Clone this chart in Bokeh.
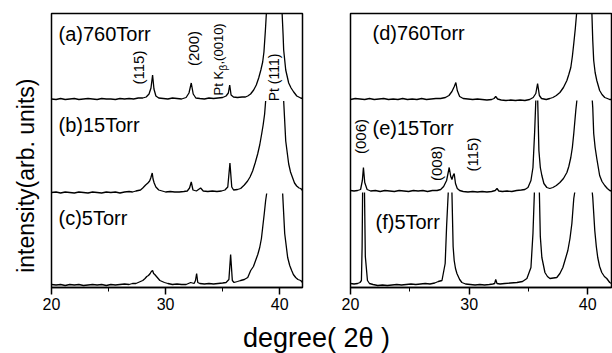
import numpy as np
from bokeh.plotting import figure
from bokeh.models import Range1d, FixedTicker, Label
from bokeh.layouts import column, row
from bokeh.embed import file_html
from bokeh.resources import INLINE

# ---------------- data (2theta in degrees, intensity in arb. units above each trace's baseline)
# left panel
a_x = [20.0, 20.4, 20.8, 21.2, 21.6, 22.0, 22.4, 22.8, 23.2, 23.6, 24.0, 24.4, 24.8, 25.2, 25.6, 26.0, 26.4, 26.8, 27.2, 27.6,
       28.0, 28.3, 28.55, 28.72, 28.86, 28.98, 29.15, 29.4, 29.8, 30.2, 30.6, 31.0, 31.4, 31.8, 32.05, 32.25, 32.42, 32.65,
       33.0, 33.4, 33.8, 34.2, 34.6, 35.0, 35.3, 35.5, 35.62, 35.74, 35.95, 36.3, 36.7, 37.0, 37.2, 37.45, 37.72, 37.95,
       38.16, 38.35, 38.51, 38.62, 38.75, 38.85, 39.6, 40.2, 40.3, 40.35, 40.53, 40.79, 41.0, 41.23, 41.5, 41.84, 42.0]
a_h = [1, 0.5, 1.5, 0.5, 1, 1.5, 0.5, 1, 1.5, 1, 0.5, 1.5, 1, 1, 0.5, 1.5, 1, 1.5, 1, 2,
       2, 3, 6, 12, 25, 11, 4, 2, 1.5, 1, 2, 1.5, 1, 2.5, 7, 17, 6, 2,
       1.5, 1, 2, 1.5, 2, 2.5, 4, 7, 15, 5, 3, 2.5, 3, 3, 4, 6, 10, 15,
       22, 30, 38, 48, 70, 90, 400, 90, 65, 50, 30, 17, 12, 8, 4, 2, 1.5]

b_x = [20.0, 20.4, 20.8, 21.2, 21.6, 22.0, 22.4, 22.8, 23.2, 23.6, 24.0, 24.4, 24.8, 25.2, 25.6, 26.0, 26.4, 26.8,
       27.1, 27.4, 27.6, 27.8, 28.0, 28.25, 28.45, 28.6, 28.7, 28.83, 28.9, 29.0, 29.15, 29.4, 29.7, 30.0, 30.4, 30.8,
       31.2, 31.6, 31.9, 32.1, 32.25, 32.4, 32.7, 33.07, 33.3, 33.7, 34.1, 34.5, 34.9, 35.2, 35.45, 35.64, 35.8, 35.96,
       36.3, 36.58, 36.9, 37.19, 37.4, 37.63, 37.85, 38.07, 38.25, 38.42, 38.55, 38.68, 38.77, 39.6, 40.35, 40.53,
       40.79, 40.95, 41.14, 41.3, 41.49, 41.7, 41.84, 42.0]
b_h = [0.5, 1, 0, 1, 0.5, 0, 1, 0.5, 0, 1, 0.5, 0, 1, 0.5, 1, 0, 1, 1.5,
       1, 2, 2.5, 3, 5, 8, 10, 12, 15, 20, 14, 10, 6, 3, 2, 1, 1.5, 1,
       1, 1.5, 2, 5, 11, 3, 2, 5, 2, 1.5, 2, 1.5, 2, 3, 6, 30, 6, 3,
       3.5, 4.5, 8, 12, 16, 22, 30, 39, 48, 59, 68, 79, 92, 400, 92, 52,
       29, 21, 15, 10, 7, 5, 4.5, 2.5]

c_x = [20.0, 20.4, 20.8, 21.2, 21.6, 22.0, 22.4, 22.8, 23.2, 23.6, 24.0, 24.4, 24.8, 25.2, 25.6, 26.0, 26.4, 26.8,
       27.1, 27.4, 27.6, 27.8, 28.0, 28.2, 28.35, 28.5, 28.65, 28.75, 28.86, 28.95, 29.05, 29.2, 29.35, 29.5, 29.7, 29.9,
       30.2, 30.6, 31.0, 31.4, 31.8, 32.0, 32.2, 32.5, 32.62, 32.72, 32.82, 33.0, 33.4, 33.8, 34.2, 34.6, 35.0, 35.3,
       35.55, 35.7, 35.85, 36.0, 36.3, 36.58, 36.9, 37.2, 37.46, 37.7, 37.89, 38.08, 38.25, 38.4, 38.51, 38.65, 38.77,
       38.86, 39.6, 40.26, 40.44, 40.7, 40.88, 41.05, 41.2, 41.4, 41.6, 41.84, 42.0]
c_h = [1, 0.5, 1, 0, 1, 0.5, 1, 0, 0.5, 1, 0.5, 1, 0, 1, 0.5, 1, 1.5, 1,
       2, 2, 3, 4, 5, 7, 9, 10, 12, 14, 15, 12, 11, 9, 7, 5, 4, 3,
       2, 1, 1.5, 1, 1, 2, 3, 2, 5, 12, 3, 2, 1.5, 2, 1.5, 2, 2.5, 3,
       6, 31, 5, 3, 4, 5, 6, 8, 15, 19, 25, 31, 38, 47, 58, 72, 85,
       92, 400, 92, 52, 28, 20, 15, 11, 8, 6, 5, 3]

# right panel
d_x = [20.0, 20.4, 20.8, 21.2, 21.6, 22.0, 22.4, 22.8, 23.2, 23.6, 24.0, 24.4, 24.8, 25.2, 25.6, 26.0, 26.4, 26.8,
       27.2, 27.6, 28.0, 28.3, 28.55, 28.75, 28.88, 29.0, 29.2, 29.5, 29.9, 30.3, 30.7, 31.1, 31.5, 31.9, 32.1, 32.24,
       32.4, 32.7, 33.1, 33.5, 33.9, 34.3, 34.7, 35.1, 35.4, 35.62, 35.77, 35.92, 36.1, 36.5, 36.8, 37.06, 37.35, 37.65,
       37.95, 38.24, 38.4, 38.57, 38.7, 38.82, 38.95, 39.08, 39.7, 40.34, 40.42, 40.5, 40.62, 40.76, 41.0, 41.2, 41.43,
       41.65, 41.85, 42.0]
d_h = [1, 2, 1.5, 1, 2, 1, 1.5, 2, 1, 1.5, 1, 2, 1, 1.5, 1, 2, 1, 1.5,
       2, 2, 3, 5, 9, 14, 18, 10, 4, 2, 1.5, 1, 1.5, 1, 0.5, 1, 2, 4,
       1.5, 0.5, 0, 0.5, 0, 0.5, 0, 1, 3, 7, 17, 5, 2, 1, 2, 3, 5, 8,
       13, 20, 26, 33, 44, 57, 72, 90, 400, 90, 60, 40, 28, 20, 10, 6, 3,
       2, 1, 1]

e_x = [20.0, 20.3, 20.6, 20.85, 21.0, 21.09, 21.2, 21.4, 21.7, 22.1, 22.5, 22.9, 23.3, 23.7, 24.1, 24.5, 24.9, 25.3,
       25.7, 26.1, 26.5, 26.9, 27.3, 27.6, 27.85, 28.1, 28.32, 28.45, 28.55, 28.65, 28.74, 28.85, 29.0, 29.2, 29.5, 29.9,
       30.3, 30.7, 31.1, 31.5, 31.9, 32.2, 32.35, 32.5, 32.8, 33.2, 33.6, 34.0, 34.4, 34.7, 34.96, 35.21, 35.38, 35.52,
       35.62, 35.7, 35.78, 35.88, 36.0, 36.13, 36.3, 36.55, 36.8, 37.06, 37.35, 37.65, 37.95, 38.24, 38.4, 38.57, 38.7,
       38.82, 38.99, 39.08, 39.7, 40.38, 40.42, 40.5, 40.62, 40.76, 41.0, 41.2, 41.43, 41.65, 41.85, 42.0]
e_h = [2, 1.5, 2, 3, 12, 25, 10, 3, 1.5, 2, 1, 2, 1.5, 1, 2, 1.5, 1, 2,
       1.5, 2, 1, 2, 2, 3, 6, 12, 25, 16, 13, 17, 19, 9, 4, 2, 1, 0.5,
       1, 0.5, 1, 0.5, 1, 2, 4, 1.5, 1, 1.5, 1, 2, 2.5, 3, 5, 12, 25, 60,
       92, 400, 92, 42, 25, 17, 9, 5, 4, 5, 7, 10, 14, 20, 26, 35, 45,
       59, 82, 92, 400, 92, 85, 59, 45, 34, 17, 11, 7, 4, 2, 1.5]

f_x = [20.0, 20.3, 20.6, 20.8, 20.92, 20.98, 21.02, 21.1, 21.18, 21.25, 21.43, 21.6, 21.9, 22.3, 22.7, 23.1, 23.5,
       23.9, 24.3, 24.7, 25.1, 25.5, 25.9, 26.3, 26.7, 27.1, 27.4, 27.71, 27.98, 28.1, 28.24, 28.4, 28.55, 28.65, 28.74,
       28.85, 28.97, 29.2, 29.39, 29.7, 30.1, 30.5, 30.9, 31.3, 31.7, 32.0, 32.15, 32.24, 32.35, 32.6, 33.0, 33.5, 34.03,
       34.5, 34.87, 35.21, 35.38, 35.5, 35.7, 35.92, 36.0, 36.13, 36.39, 36.6, 36.81, 37.1, 37.39, 37.65, 37.9, 38.1,
       38.32, 38.5, 38.66, 38.82, 38.9, 39.7, 40.38, 40.42, 40.59, 40.72, 40.84, 41.0, 41.18, 41.4, 41.6, 41.85, 42.0]
f_h = [3, 2.5, 3, 4, 6, 40, 94, 600, 94, 30, 6, 3, 2, 1, 1.5, 1, 1.5,
       2, 1.5, 2, 2.5, 2, 2.5, 3, 2.5, 3.5, 5, 6, 23, 60, 94, 600, 94, 40, 26,
       18, 13, 7, 4, 2.5, 2, 1.5, 2, 1.5, 2, 2.5, 3, 7, 3, 2.5, 3, 3.5, 4,
       5, 8, 19, 53, 94, 600, 94, 50, 29, 14, 10, 8, 8.5, 9, 13, 19, 27,
       36, 48, 63, 88, 94, 600, 94, 89, 56, 40, 29, 20, 14, 10, 8, 4, 3]

x_ticks = [20, 30, 40]
x_minor = [25, 35]
left_labels = ["(a)760Torr", "(b)15Torr", "(c)5Torr"]
right_labels = ["(d)760Torr", "(e)15Torr", "(f)5Torr"]

# ---------------- layout / style
FONT = "Liberation Sans"
X0, X1 = 20, 42
Y_TOP = 274
H = 316          # height of the row with the two panels (frame 13..287)
HB = 353 - H     # height of the strip holding the common x title
W0 = 40          # strip holding the y title


def make_fig(width, bl, br):
    p = figure(width=width, height=H, x_range=Range1d(X0, X1), y_range=Range1d(0, Y_TOP),
               toolbar_location=None, output_backend="svg", y_axis_location=None, title=None,
               min_border_left=bl, min_border_right=br, min_border_top=13, min_border_bottom=H - 287)
    p.xgrid.visible = False
    p.ygrid.visible = False
    p.outline_line_color = "black"
    p.outline_line_width = 1.5
    p.background_fill_color = "white"
    p.border_fill_color = "white"
    ax = p.xaxis[0]
    ax.ticker = FixedTicker(ticks=x_ticks, minor_ticks=x_minor)
    ax.axis_line_color = "black"
    ax.axis_line_width = 1.5
    ax.major_tick_out = 7
    ax.major_tick_in = 0
    ax.minor_tick_out = 4
    ax.minor_tick_in = 0
    ax.major_tick_line_width = 1.5
    ax.major_label_text_font = FONT
    ax.major_label_text_font_size = "16px"
    ax.major_label_text_color = "black"
    ax.major_label_standoff = 3
    return p


def blank_fig(width, height):
    p = figure(width=width, height=height, x_range=Range1d(0, width), y_range=Range1d(0, height),
               toolbar_location=None, output_backend="svg", x_axis_location=None, y_axis_location=None,
               title=None, min_border=0, min_border_left=0, min_border_right=0, min_border_top=0,
               min_border_bottom=0)
    p.xgrid.visible = False
    p.ygrid.visible = False
    p.outline_line_color = None
    return p


def add_trace(p, xs, hs, offset, cap):
    x = np.asarray(xs, float)
    h = np.asarray(hs, float)
    y = np.where(h > cap, np.nan, h) + offset
    p.line(x, y, line_color="black", line_width=1.3)


def lab(p, x, y, text, size, angle=0.0, align="left", baseline="middle"):
    p.add_layout(Label(x=x, y=y, text=text, angle=angle, text_align=align, text_baseline=baseline,
                       text_font=FONT, text_font_size=size, text_color="black"))


lx = lambda px: X0 + (px - 51) * (X1 - X0) / 251.0
rx = lambda px: X0 + (px - 350) * (X1 - X0) / 261.0
yy = lambda py: 287 - py
V = np.pi / 2

# y title strip
f0 = blank_fig(W0, H)
lab(f0, 25, H - 187, "intensity(arb. units)", "23px", V, "center")

# left panel
f1 = make_fig(326 - W0, 51 - W0, 24)
add_trace(f1, c_x, c_h, 2.0, 92.5)
add_trace(f1, b_x, b_h, 94.5, 93.0)
add_trace(f1, a_x, a_h, 187.5, 95.0)

for t, py in zip(left_labels, [33, 124, 217]):
    lab(f1, lx(58), yy(py), t, "20px")
lab(f1, lx(138), yy(67), "(115)", "15px", V, "center")
lab(f1, lx(193), yy(48), "(200)", "15px", V, "center")
lab(f1, lx(218), yy(95), "Pt K", "13px", V, "left")
lab(f1, lx(223), yy(70), "\u03b2", "10px", V, "left")
lab(f1, lx(218), yy(64), ",(0010)", "13px", V, "left")
lab(f1, lx(273), yy(77), "Pt (111)", "14px", V, "center")

# right panel
f2 = make_fig(286, 24, 1)
add_trace(f2, f_x, f_h, 1.0, 94.0)
add_trace(f2, e_x, e_h, 95.0, 92.0)
add_trace(f2, d_x, d_h, 187.0, 95.0)

for t, px, py in zip(right_labels, [372, 372, 375], [32, 127, 221]):
    lab(f2, rx(px), yy(py), t, "20px")
lab(f2, rx(360), yy(136), "(006)", "15px", V, "center")
lab(f2, rx(436), yy(163), "(008)", "15px", V, "center")
lab(f2, rx(472), yy(154), "(115)", "15px", V, "center")

# common x title strip
f3 = blank_fig(612, HB)
lab(f3, 316, 353 - 337, "degree( 2\u03b8 )", "27px", 0.0, "center", "middle")

layout = column(row(f0, f1, f2), f3)
open("out.html", "w").write(file_html(layout, INLINE))
